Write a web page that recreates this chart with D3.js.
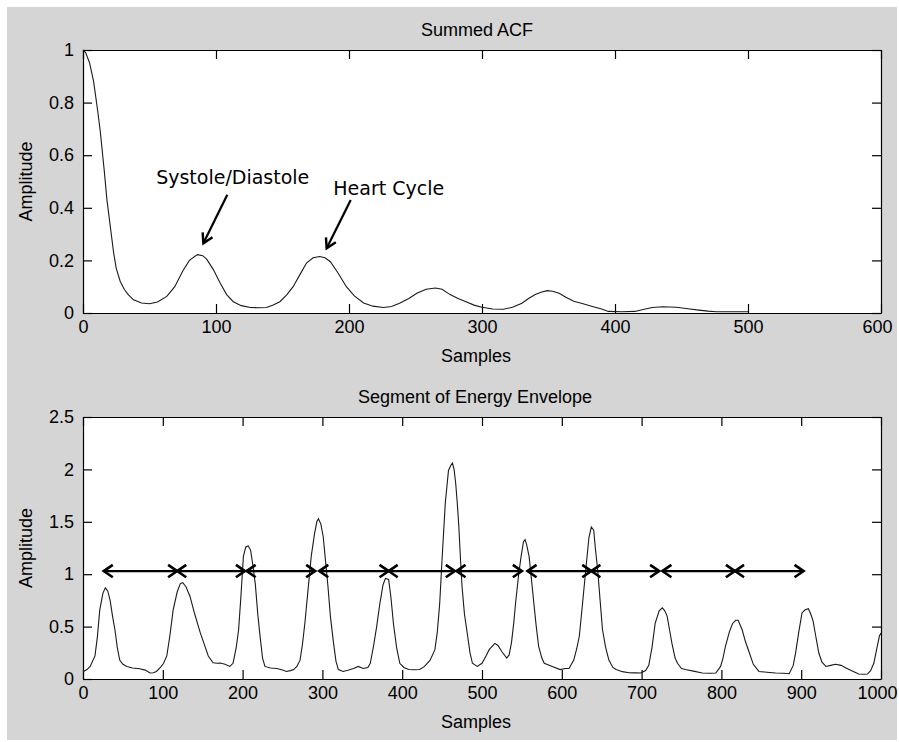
<!DOCTYPE html>
<html>
<head>
<meta charset="utf-8">
<script src="https://cdn.jsdelivr.net/npm/d3@7"></script>
<style>
  html, body { margin: 0; padding: 0; background: #fff; }
  svg { display: block; }
  .tick text, .lbl { font-family: "Liberation Sans", Arial, sans-serif; font-size: 18px; fill: #000; }
  .note { font-family: "DejaVu Sans", Verdana, sans-serif; font-size: 19px; fill: #000; }
</style>
</head>
<body>
<svg id="fig" width="899" height="742"></svg>
<script>
// ---- Summed autocorrelation (lag in samples, normalised amplitude) ----
const acfSamples = [0, 2, 5, 8, 11, 13, 16, 18, 21, 23, 25, 28, 31, 34, 38, 44, 50, 56, 63, 69, 75, 80, 86, 90, 93, 98,
  103, 108, 113, 119, 126, 132, 138, 143, 148, 153, 158, 163, 168, 173, 178, 182, 186, 192, 198, 204, 211, 218, 226,
  232, 238, 245, 251, 258, 265, 270, 276, 282, 288, 294, 300, 308, 316, 323, 330, 335, 340, 345, 349, 353, 358, 363,
  369, 376, 383, 390, 395, 405, 415, 422, 428, 436, 446, 455, 463, 470, 476, 490, 500];
const acfValues = [1.0, 0.99, 0.95, 0.88, 0.77, 0.69, 0.54, 0.43, 0.31, 0.23, 0.17, 0.12, 0.09, 0.07, 0.05, 0.038,
  0.035, 0.042, 0.063, 0.10, 0.16, 0.20, 0.222, 0.218, 0.205, 0.165, 0.115, 0.07, 0.043, 0.028, 0.021, 0.02, 0.021,
  0.03, 0.043, 0.068, 0.10, 0.145, 0.19, 0.21, 0.215, 0.21, 0.195, 0.15, 0.10, 0.065, 0.038, 0.026, 0.021, 0.025,
  0.037, 0.055, 0.075, 0.09, 0.095, 0.09, 0.07, 0.055, 0.043, 0.03, 0.022, 0.015, 0.014, 0.022, 0.037, 0.055, 0.07,
  0.08, 0.085, 0.083, 0.075, 0.06, 0.045, 0.035, 0.025, 0.015, 0.006, 0.005, 0.006, 0.014, 0.021, 0.024, 0.022,
  0.016, 0.011, 0.007, 0.005, 0.005, 0.005];

// ---- Energy envelope segment ----
const envSamples = [0, 5, 9, 15, 18, 21, 25, 28, 31, 34, 37, 40, 43, 46, 50, 55, 62, 71, 78, 84, 88, 92, 97, 101, 105,
  109, 113, 118, 122, 125, 129, 134, 140, 147, 152, 157, 163, 168, 172, 178, 184, 188, 192, 195, 198, 201, 204, 207,
  210, 213, 216, 219, 222, 225, 228, 235, 243, 250, 255, 260, 264, 268, 272, 275, 278, 282, 286, 290, 293, 295, 298,
  301, 304, 307, 310, 314, 317, 320, 326, 333, 339, 345, 351, 357, 360, 364, 368, 372, 376, 379, 383, 386, 389, 393,
  397, 402, 408, 415, 422, 428, 435, 441, 444, 447, 450, 454, 458, 461, 463, 465, 467, 469, 471, 473, 475, 478, 482,
  485, 488, 494, 500, 505, 509, 516, 520, 525, 531, 534, 537, 540, 542, 546, 549, 552, 554, 556, 559, 562, 565, 568,
  571, 575, 578, 588, 598, 604, 609, 615, 619, 622, 626, 630, 634, 637, 640, 642, 645, 648, 651, 655, 659, 664, 668,
  676, 684, 692, 699, 705, 709, 713, 717, 722, 726, 729, 732, 735, 738, 742, 745, 750, 755, 765, 776, 786, 793, 799,
  802, 805, 810, 814, 818, 821, 826, 830, 835, 840, 847, 857, 868, 878, 885, 890, 893, 897, 901, 905, 909, 912, 915,
  918, 922, 926, 931, 937, 943, 950, 955, 960, 966, 972, 978, 983, 987, 991, 995, 998, 1000];
const envValues = [0.07, 0.09, 0.12, 0.22, 0.4, 0.66, 0.82, 0.87, 0.84, 0.75, 0.6, 0.47, 0.3, 0.18, 0.14, 0.12, 0.105,
  0.098, 0.085, 0.057, 0.06, 0.072, 0.11, 0.15, 0.22, 0.42, 0.66, 0.83, 0.91, 0.92, 0.88, 0.79, 0.62, 0.44, 0.33, 0.22,
  0.155, 0.15, 0.152, 0.14, 0.12, 0.15, 0.3, 0.47, 0.8, 1.17, 1.26, 1.27, 1.23, 1.08, 0.9, 0.62, 0.4, 0.2, 0.12, 0.105,
  0.1, 0.085, 0.072, 0.08, 0.09, 0.12, 0.18, 0.33, 0.53, 0.85, 1.17, 1.38, 1.5, 1.53, 1.48, 1.36, 1.12, 0.88, 0.6, 0.34,
  0.17, 0.09, 0.072, 0.085, 0.1, 0.12, 0.1, 0.11, 0.15, 0.31, 0.5, 0.72, 0.9, 0.96, 0.95, 0.77, 0.53, 0.3, 0.15, 0.11,
  0.09, 0.088, 0.09, 0.12, 0.18, 0.28, 0.45, 0.72, 1.15, 1.68, 1.99, 2.04, 2.06, 2.0, 1.87, 1.68, 1.45, 1.15, 0.88, 0.62,
  0.41, 0.25, 0.15, 0.12, 0.15, 0.22, 0.28, 0.34, 0.32, 0.26, 0.2, 0.23, 0.35, 0.55, 0.72, 1.0, 1.17, 1.31, 1.33, 1.28,
  1.17, 0.95, 0.72, 0.5, 0.31, 0.2, 0.15, 0.12, 0.09, 0.1, 0.1, 0.18, 0.3, 0.41, 0.72, 1.04, 1.35, 1.45, 1.42, 1.25,
  1.04, 0.75, 0.47, 0.3, 0.18, 0.11, 0.09, 0.07, 0.06, 0.058, 0.057, 0.08, 0.13, 0.3, 0.53, 0.65, 0.68, 0.65, 0.6, 0.47,
  0.34, 0.2, 0.15, 0.1, 0.09, 0.075, 0.057, 0.055, 0.057, 0.12, 0.2, 0.31, 0.45, 0.53, 0.56, 0.56, 0.47, 0.36, 0.25,
  0.14, 0.072, 0.065, 0.057, 0.055, 0.05, 0.13, 0.25, 0.45, 0.63, 0.66, 0.67, 0.62, 0.55, 0.42, 0.25, 0.16, 0.12, 0.13,
  0.14, 0.13, 0.11, 0.09, 0.07, 0.047, 0.045, 0.047, 0.08, 0.15, 0.3, 0.41, 0.44];

// Beat-to-beat intervals marked on the envelope (start / end sample, drawn at one level)
const intervalStart = [26, 118, 205, 296, 383, 468, 557, 637, 726, 817];
const intervalEnd   = [118, 203, 291, 383, 466, 550, 637, 722, 817, 903];
const intervalLevel = 1.03;

// Axis ticks
const acfXTicks = [0, 100, 200, 300, 400, 500, 600];
const acfYTicks = [0, 0.2, 0.4, 0.6, 0.8, 1];
const envXTicks = [0, 100, 200, 300, 400, 500, 600, 700, 800, 900, 1000];
const envYTicks = [0, 0.5, 1, 1.5, 2, 2.5];

// Callouts on the ACF panel: text anchor and arrow start / tip, in data units
const callouts = [
  { text: "Systole/Diastole", tx: 55, ty: 0.49, from: [108.5, 0.45], to: [90.5, 0.265] },
  { text: "Heart Cycle", tx: 188.2, ty: 0.449, from: [201.3, 0.43], to: [183.2, 0.246] }
];

const svg = d3.select("#fig");
svg.append("rect").attr("x", 7).attr("y", 7).attr("width", 890).attr("height", 733).attr("fill", "#d5d5d5");

const TICK = 9;

function panel(opt) {
  const { left, top, width, height, xDomain, yDomain, xTicks, yTicks, yFmt, title, titleX, labelX } = opt;
  const x = d3.scaleLinear().domain(xDomain).range([0, width]);
  const y = d3.scaleLinear().domain(yDomain).range([height, 0]);
  const g = svg.append("g").attr("transform", `translate(${left},${top})`);

  g.append("rect").attr("width", width).attr("height", height).attr("fill", "#fff");

  const fmt = d3.format(yFmt);
  // bottom + left axes carry labels; top + right only mirror the ticks
  const xAxisG = g.append("g").attr("transform", `translate(0,${height})`)
    .call(d3.axisBottom(x).tickValues(xTicks).tickSizeInner(-TICK).tickSizeOuter(0).tickPadding(7).tickFormat(d3.format("d")));
  // keep the right-most label inside the figure
  xAxisG.selectAll(".tick text").filter((d, i, n) => i === n.length - 1).attr("dx", -4);
  g.append("g")
    .call(d3.axisLeft(y).tickValues(yTicks).tickSizeInner(-TICK).tickSizeOuter(0).tickPadding(9).tickFormat(d => fmt(d)));
  g.append("g")
    .call(d3.axisTop(x).tickValues(xTicks).tickSizeInner(-TICK).tickSizeOuter(0).tickFormat(""));
  g.append("g").attr("transform", `translate(${width},0)`)
    .call(d3.axisRight(y).tickValues(yTicks).tickSizeInner(-TICK).tickSizeOuter(0).tickFormat(""));
  g.selectAll(".domain").attr("stroke", "#000").attr("stroke-width", 1.2);
  g.selectAll(".tick line").attr("stroke", "#000").attr("stroke-width", 1.2);
  g.selectAll(".tick text").attr("font-family", null).attr("font-size", null);

  g.append("text").attr("class", "lbl").attr("x", titleX).attr("y", -14)
    .attr("text-anchor", "middle").text(title);
  g.append("text").attr("class", "lbl").attr("x", labelX).attr("y", height + 49)
    .attr("text-anchor", "middle").text("Samples");
  g.append("text").attr("class", "lbl")
    .attr("transform", `translate(${-51},${height / 2}) rotate(-90)`)
    .attr("text-anchor", "middle").text("Amplitude");

  return { g, x, y };
}

// ---- Upper panel: Summed ACF ----
const p1 = panel({
  left: 83, top: 50, width: 798, height: 263,
  xDomain: [0, 600], yDomain: [0, 1], xTicks: acfXTicks, yTicks: acfYTicks, yFmt: "~g",
  title: "Summed ACF", titleX: 394, labelX: 393
});
p1.g.append("path")
  .datum(d3.zip(acfSamples, acfValues))
  .attr("fill", "none").attr("stroke", "#1a1a1a").attr("stroke-width", 1.1)
  .attr("d", d3.line().x(d => p1.x(d[0])).y(d => p1.y(d[1])));

function arrowHead(g, x0, y0, x1, y1, len, halfAngle, width) {
  const a = Math.atan2(y1 - y0, x1 - x0);
  const pts = [a + Math.PI - halfAngle, a + Math.PI + halfAngle].map(t => [x1 + len * Math.cos(t), y1 + len * Math.sin(t)]);
  g.append("path")
    .attr("d", `M${pts[0][0]},${pts[0][1]}L${x1},${y1}L${pts[1][0]},${pts[1][1]}`)
    .attr("fill", "none").attr("stroke", "#000").attr("stroke-width", width)
    .attr("stroke-linejoin", "miter").attr("stroke-linecap", "butt");
}

callouts.forEach(c => {
  p1.g.append("text").attr("class", "note").attr("x", p1.x(c.tx)).attr("y", p1.y(c.ty)).text(c.text);
  const x0 = p1.x(c.from[0]), y0 = p1.y(c.from[1]), x1 = p1.x(c.to[0]), y1 = p1.y(c.to[1]);
  p1.g.append("line").attr("x1", x0).attr("y1", y0).attr("x2", x1).attr("y2", y1)
    .attr("stroke", "#000").attr("stroke-width", 2.2);
  arrowHead(p1.g, x0, y0, x1, y1, 11, Math.PI / 6, 2.4);
});

// ---- Lower panel: Energy envelope ----
const p2 = panel({
  left: 83, top: 417, width: 798, height: 262,
  xDomain: [0, 1000], yDomain: [0, 2.5], xTicks: envXTicks, yTicks: envYTicks, yFmt: "~g",
  title: "Segment of Energy Envelope", titleX: 392, labelX: 393
});
p2.g.append("path")
  .datum(d3.zip(envSamples, envValues))
  .attr("fill", "none").attr("stroke", "#1a1a1a").attr("stroke-width", 1.1)
  .attr("d", d3.line().x(d => p2.x(d[0])).y(d => p2.y(d[1])));

intervalStart.forEach((s, i) => {
  const xa = p2.x(s), xb = p2.x(intervalEnd[i]), yy = p2.y(intervalLevel);
  p2.g.append("line").attr("x1", xa).attr("x2", xb).attr("y1", yy).attr("y2", yy)
    .attr("stroke", "#000").attr("stroke-width", 2.2);
  arrowHead(p2.g, xb, yy, xa, yy, 11, Math.PI / 5.2, 2.6);
  arrowHead(p2.g, xa, yy, xb, yy, 11, Math.PI / 5.2, 2.6);
});
</script>
</body>
</html>
